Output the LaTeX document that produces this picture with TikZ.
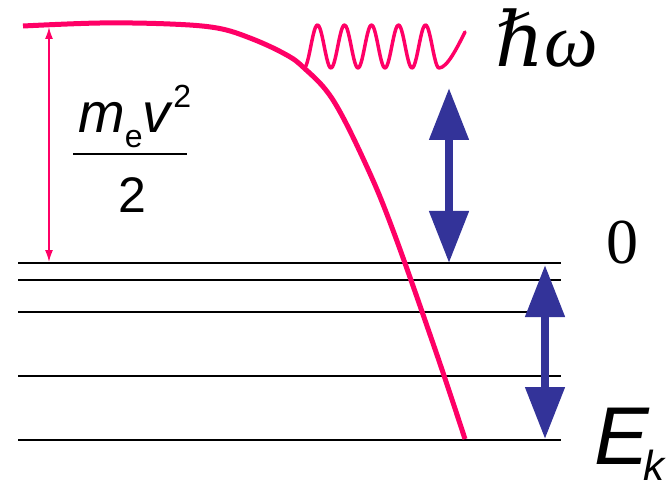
\documentclass[tikz,border=0pt]{standalone}
\usepackage{fontspec}
\setmainfont{Liberation Serif}
\setsansfont{Liberation Sans}
\newfontfamily\planckfont{DejaVu Serif}
\usetikzlibrary{arrows.meta}
\definecolor{HotPink}{RGB}{255,0,102}
\definecolor{DeepBlue}{RGB}{51,51,153}
\tikzset{
  level/.style={black,line width=2pt},
  electron/.style={HotPink,line width=5pt,line cap=butt},
  photon/.style={HotPink,line width=3.5pt,line join=round,line cap=round},
  kinetic/.style={{Latex[length=12pt,width=8pt]}-{Latex[length=12pt,width=8pt]},
    HotPink,line width=1.5pt},
  gap/.style={{Triangle[width=38pt,length=52pt]}-{Triangle[width=38pt,length=52pt]},
    DeepBlue,line width=8pt},
  tag/.style={inner sep=0pt,anchor=base west}
}
\begin{document}
\begin{tikzpicture}[x=1pt,y=-1pt]
  \useasboundingbox (0,0) rectangle (670,484);
  % energy levels
  \foreach \y in {263,280,312,376,440}
    \draw[level] (18,\y) -- (561,\y);
  % electron energy curve
  \draw[electron] plot[smooth,tension=0.6] coordinates {(23,26) (100,23) (170,24)
    (217,28) (250,38) (283,53) (303,67) (333,100) (367,167) (394,233)
    (436,352) (465,439)};
  % emitted photon
  \draw[photon] plot[domain=304:439,samples=120] (\x,{46.5+21.5*cos(13.3333*(\x-304))})
    .. controls (447,68) and (457,48) .. (465,32);
  % arrows
  \coordinate (topE) at (49,27);
  \coordinate (zeroE) at (49,262);
  \draw[kinetic] (topE) -- (zeroE);
  \coordinate (photonTop) at (449,88);
  \coordinate (photonBot) at (449,263);
  \draw[gap] (photonTop) -- (photonBot);
  \coordinate (bandTop) at (545,265);
  \coordinate (bandBot) at (545,439);
  \draw[gap] (bandTop) -- (bandBot);
  % labels
  \node[tag,font=\sffamily\fontsize{56}{60}\selectfont] (num) at (78,133)
    {\textit{m}\raisebox{-15pt}{\fontsize{32}{32}\selectfont e}\textit{v}\raisebox{25pt}{\fontsize{32}{32}\selectfont 2}};
  \coordinate (barL) at (73,154);
  \coordinate (barR) at (187,154);
  \draw[line width=1.7pt] (barL) -- (barR);
  \node[tag,anchor=base,font=\sffamily\fontsize{50}{55}\selectfont] (den) at (132,213) {2};
  \node[tag,font=\fontsize{76}{80}\selectfont] (quantum) at (495,67)
    {{\planckfont\itshape ℏ}\textit{ω}};
  \node[tag,font=\fontsize{64}{70}\selectfont] (zero) at (606,263) {0};
  \node[tag,font=\sffamily\itshape\fontsize{82}{90}\selectfont] (energy) at (594,464) {E};
  \node[tag,font=\sffamily\itshape\fontsize{42}{48}\selectfont] (sub) at (643,480) {k};
\end{tikzpicture}
\end{document}
